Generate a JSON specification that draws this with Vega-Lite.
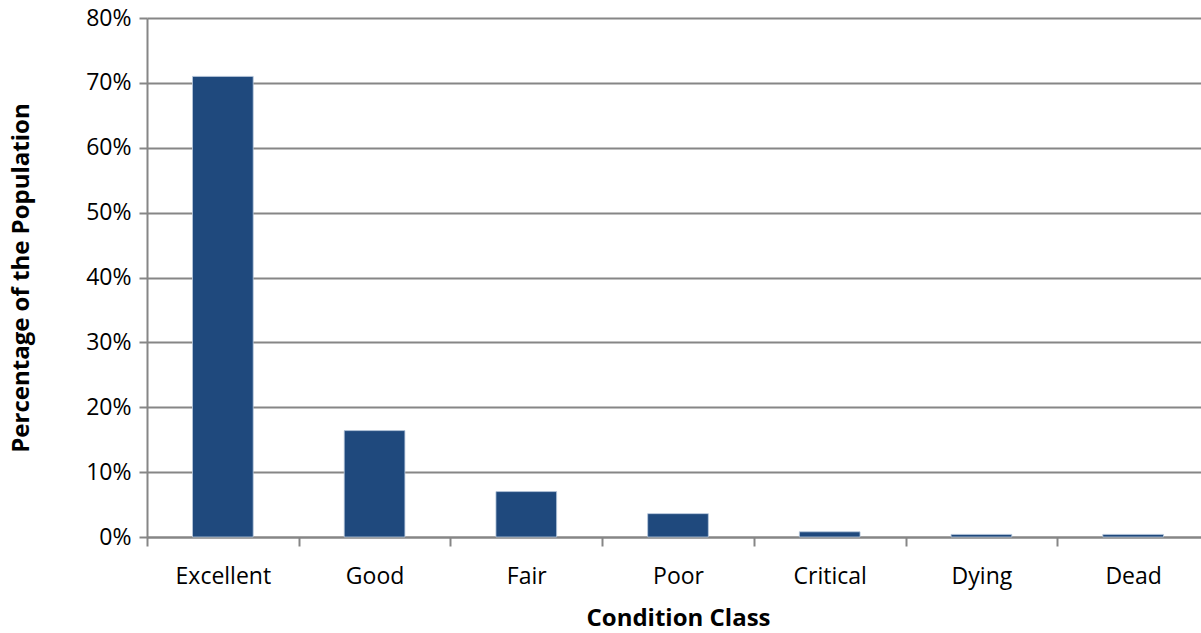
{
  "$schema": "https://vega.github.io/schema/vega-lite/v6.json",
  "autosize": "none",
  "padding": {"left": 147, "top": 18, "right": 0, "bottom": 96},
  "width": 1062,
  "height": 519,
  "background": "white",
  "config": {
    "view": {"stroke": null},
    "font": "Open Sans"
  },
  "data": {
    "values": [
      {"condition": "Excellent", "pct": 0.710},
      {"condition": "Good", "pct": 0.164},
      {"condition": "Fair", "pct": 0.070},
      {"condition": "Poor", "pct": 0.036},
      {"condition": "Critical", "pct": 0.008},
      {"condition": "Dying", "pct": 0.004},
      {"condition": "Dead", "pct": 0.004}
    ]
  },
  "mark": {"type": "bar", "color": "#1F497D", "stroke": "#B9C9DD", "strokeWidth": 0.8, "width": {"band": 0.4}},
  "encoding": {
    "x": {
      "field": "condition",
      "type": "nominal",
      "sort": null,
      "scale": {"paddingInner": 0, "paddingOuter": 0},
      "axis": {
        "title": "Condition Class",
        "titleFontSize": 24,
        "titleFontWeight": "bold",
        "titleColor": "black",
        "titlePadding": 18,
        "titleFont": "Open Sans",
        "labelAngle": 0,
        "labelFontSize": 23,
        "labelColor": "black",
        "labelPadding": 19,
        "labelFont": "Open Sans",
        "domainColor": "#868686",
        "domainWidth": 2,
        "tickColor": "#868686",
        "tickWidth": 2,
        "tickSize": 9,
        "tickBand": "extent",
        "grid": false
      }
    },
    "y": {
      "field": "pct",
      "type": "quantitative",
      "scale": {"domain": [0, 0.8], "nice": false},
      "axis": {
        "title": "Percentage of the Population",
        "titleFontSize": 24,
        "titleFontWeight": "bold",
        "titleColor": "black",
        "titlePadding": 52,
        "titleFont": "Open Sans",
        "format": ".0%",
        "values": [0, 0.1, 0.2, 0.3, 0.4, 0.5, 0.6, 0.7, 0.8],
        "labelFontSize": 23,
        "labelColor": "black",
        "labelPadding": 8,
        "labelFont": "Open Sans",
        "domainColor": "#868686",
        "domainWidth": 2,
        "tickColor": "#868686",
        "tickWidth": 2,
        "tickSize": 8,
        "grid": true,
        "gridColor": "#868686",
        "gridWidth": 2
      }
    }
  }
}
